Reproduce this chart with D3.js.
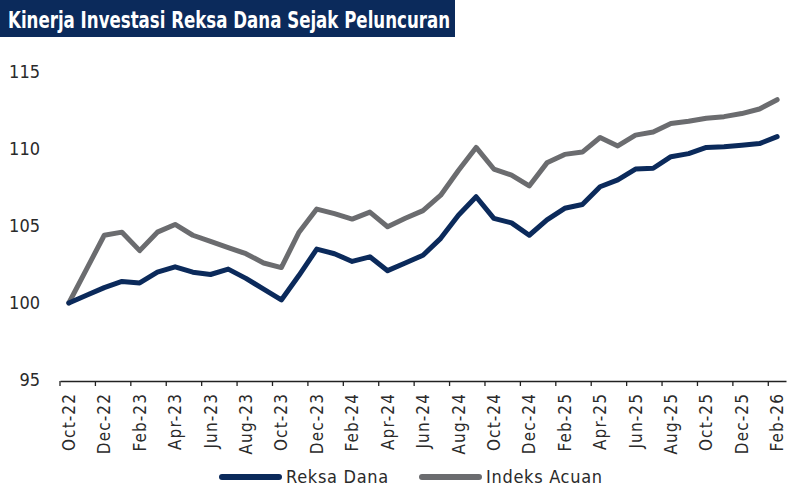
<!DOCTYPE html>
<html>
<head>
<meta charset="utf-8">
<script src="https://cdn.jsdelivr.net/npm/d3@7"></script>
<style>
  body { margin: 0; background: #fff; }
  svg text { font-family: "Liberation Sans Narrow", "DejaVu Sans Condensed", sans-serif; }
</style>
</head>
<body>
<div id="chart"></div>
<script>
const WIDTH  = 800;
const HEIGHT = 488;

const X_LEFT   = 60;
const X_RIGHT  = 786;
const Y_TOP    = 72;
const Y_BOTTOM = 380;

const NAVY = "#0b2a5b";
const GREY = "#6b6c6f";

const MONTHS = [
  "Oct-22", "Nov-22", "Dec-22", "Jan-23", "Feb-23", "Mar-23", "Apr-23", "May-23",
  "Jun-23", "Jul-23", "Aug-23", "Sep-23", "Oct-23", "Nov-23", "Dec-23", "Jan-24",
  "Feb-24", "Mar-24", "Apr-24", "May-24", "Jun-24", "Jul-24", "Aug-24", "Sep-24",
  "Oct-24", "Nov-24", "Dec-24", "Jan-25", "Feb-25", "Mar-25", "Apr-25", "May-25",
  "Jun-25", "Jul-25", "Aug-25", "Sep-25", "Oct-25", "Nov-25", "Dec-25", "Jan-26",
  "Feb-26"
];

const REKSA_DANA = [
  100.0, 100.5, 101.0, 101.4, 101.3, 102.0, 102.35, 102.0, 101.85, 102.2,
  101.6, 100.9, 100.2, 101.8, 103.5, 103.2, 102.7, 103.0, 102.1, 102.6,
  103.1, 104.2, 105.7, 106.9, 105.5, 105.2, 104.4, 105.4, 106.15, 106.4,
  107.55, 108.0, 108.7, 108.75, 109.5, 109.7, 110.1, 110.15, 110.25, 110.35,
  110.8
];

const INDEKS_ACUAN = [
  100.0, 102.2, 104.4, 104.6, 103.4, 104.6, 105.1, 104.4, 104.0, 103.6,
  103.2, 102.6, 102.3, 104.6, 106.1, 105.8, 105.45, 105.9, 104.95, 105.5,
  106.0, 107.0, 108.6, 110.1, 108.7, 108.3, 107.6, 109.1, 109.65, 109.8,
  110.75, 110.2, 110.9, 111.1, 111.65, 111.8, 112.0, 112.1, 112.3, 112.6,
  113.2
];

const Y_TICKS = [95, 100, 105, 110, 115];
const TITLE = "Kinerja Investasi Reksa Dana Sejak Peluncuran";

var svg = d3.select("#chart")
            .append("svg")
            .attr("width", WIDTH)
            .attr("height", HEIGHT);

// title bar
svg.append("rect")
   .attr("x", 0).attr("y", 0)
   .attr("width", 455).attr("height", 37)
   .attr("fill", NAVY);
svg.append("text")
   .attr("x", 8).attr("y", 28)
   .attr("fill", "#fff")
   .attr("font-weight", "bold")
   .attr("font-size", 23)
   .attr("textLength", 442)
   .attr("lengthAdjust", "spacingAndGlyphs")
   .text(TITLE);

var xScale = d3.scaleBand()
               .domain(MONTHS)
               .range([X_LEFT, X_RIGHT]);
var yScale = d3.scaleLinear()
               .domain([95, 115])
               .range([Y_BOTTOM, Y_TOP]);

var half = xScale.bandwidth() / 2;
var labelMonths = MONTHS.filter((m, i) => i % 2 == 0);

// y axis labels only
var yAxis = svg.append("g")
               .attr("transform", "translate(40,0)")
               .call(d3.axisLeft(yScale).tickValues(Y_TICKS).tickSize(0).tickPadding(0));
yAxis.select(".domain").remove();
yAxis.selectAll("text")
     .attr("font-size", 18)
     .attr("fill", "#2a2a2a")
     .style("font-family", "'Liberation Sans Narrow', 'DejaVu Sans Condensed', sans-serif");

// x axis: line + ticks at category boundaries, labels at centres
var xAxis = svg.append("g")
               .attr("transform", "translate(0," + (Y_BOTTOM + 1) + ")")
               .call(d3.axisBottom(xScale).tickValues(labelMonths).tickSize(0).tickSizeOuter(0));
xAxis.select(".domain").attr("stroke", "#222").attr("stroke-width", 1.3);
xAxis.selectAll("text")
     .attr("font-size", 17)
     .attr("fill", "#2a2a2a")
     .attr("letter-spacing", 1.1)
     .attr("text-anchor", "end")
     .attr("transform", "translate(0,12) rotate(-90)")
     .attr("x", 0).attr("y", 0)
     .attr("dy", "0.36em")
     .style("font-family", "'Liberation Sans Narrow', 'DejaVu Sans Condensed', sans-serif");

svg.append("g")
   .selectAll("line")
   .data(labelMonths)
   .enter()
   .append("line")
   .attr("x1", d => xScale(d)).attr("x2", d => xScale(d))
   .attr("y1", Y_BOTTOM + 1).attr("y2", Y_BOTTOM + 6)
   .attr("stroke", "#222")
   .attr("stroke-width", 1.3);

// lines
var line = d3.line()
             .x((d, i) => xScale(MONTHS[i]) + half)
             .y(d => yScale(d));

svg.append("path")
   .datum(INDEKS_ACUAN)
   .attr("d", line)
   .attr("fill", "none")
   .attr("stroke", GREY)
   .attr("stroke-width", 5)
   .attr("stroke-linejoin", "round")
   .attr("stroke-linecap", "round");

svg.append("path")
   .datum(REKSA_DANA)
   .attr("d", line)
   .attr("fill", "none")
   .attr("stroke", NAVY)
   .attr("stroke-width", 5)
   .attr("stroke-linejoin", "round")
   .attr("stroke-linecap", "round");

// legend
var legend = [
  {name: "Reksa Dana",   color: NAVY, x: 222},
  {name: "Indeks Acuan", color: GREY, x: 422}
];
legend.forEach(function(l) {
  svg.append("line")
     .attr("x1", l.x).attr("x2", l.x + 57)
     .attr("y1", 477).attr("y2", 477)
     .attr("stroke", l.color)
     .attr("stroke-width", 6)
     .attr("stroke-linecap", "round");
  svg.append("text")
     .attr("x", l.x + 64).attr("y", 483)
     .attr("font-size", 18)
     .attr("letter-spacing", 0.7)
     .attr("fill", "#2a2a2a")
     .text(l.name);
});
</script>
</body>
</html>
